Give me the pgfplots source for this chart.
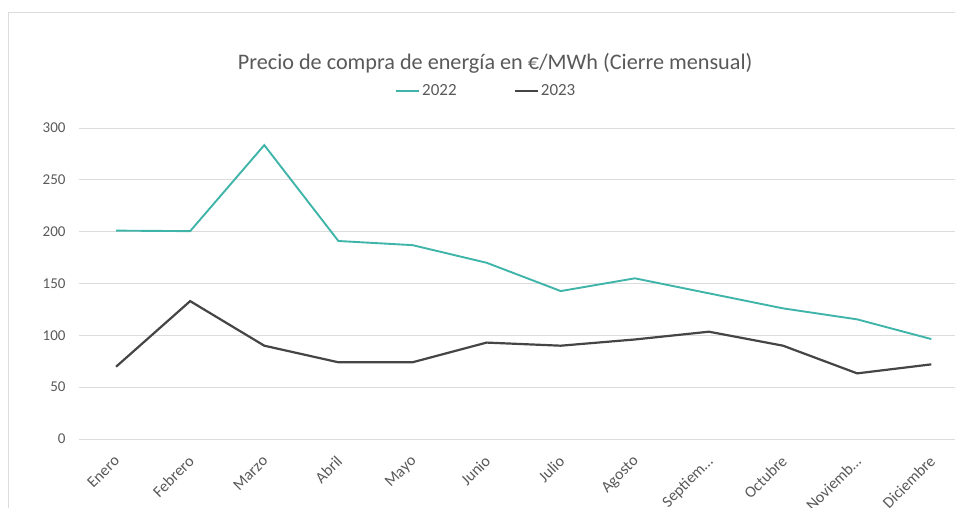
\documentclass[border=0pt]{standalone}
\usepackage{pgfplots}
\pgfplotsset{compat=1.18}
\usepackage{fontspec}
\setmainfont{Carlito}
\definecolor{teal22}{HTML}{3FB4A9}
\definecolor{gray23}{HTML}{454545}
\definecolor{txt}{HTML}{595959}
\definecolor{gridc}{HTML}{DCDCDC}
\begin{document}
\begin{tikzpicture}[x=1pt,y=1pt]
\begin{axis}[
  at={(79pt,69pt)}, anchor=south west,
  scale only axis, width=876pt, height=311pt,
  xmin=-0.5, xmax=11.32, ymin=0, ymax=300,
  axis line style={draw=none},
  clip=false,
  xtick={0,...,11},
  xticklabels={Enero,Febrero,Marzo,Abril,Mayo,Junio,Julio,Agosto,Septiem…,Octubre,Noviemb…,Diciembre},
  xticklabel style={xshift=-3pt, yshift=-14pt, rotate=45, anchor=north east, font=\fontsize{16}{18}\selectfont, text=txt, inner sep=1pt},
  ytick={0,50,...,300},
  yticklabel style={font=\fontsize{15}{17}\selectfont, text=txt, anchor=east, xshift=-10pt},
  /pgf/number format/assume math mode=true,
  major tick length=0pt,
  xmajorgrids=false, ymajorgrids=true, grid style={draw=gridc, line width=0.9pt},
  title={Precio de compra de energía en €/MWh (Cierre mensual)},
  title style={at={(0.475,1.19)}, anchor=center, yshift=0pt, font=\fontsize{22.2}{24}\selectfont, text=txt},
  legend columns=2,
  legend style={at={(0.465,1.119)}, anchor=center, draw=none, fill=none,
    font=\fontsize{17}{19}\selectfont, text=txt,
    /tikz/every even column/.append style={column sep=55pt}, inner sep=0pt},
  legend image code/.code={\draw[#1] (0pt,0pt) -- (23pt,0pt);},
]
\addplot[teal22, line width=1.9pt] coordinates {
(0,201) (1,200.5) (2,283.5) (3,191) (4,187) (5,170) (6,142.7) (7,155) (8,140.5) (9,126) (10,115.4) (11,96.4)};
\addlegendentry{2022}
\addplot[gray23, line width=2.2pt] coordinates {
(0,69.7) (1,133) (2,90) (3,74) (4,74) (5,93) (6,90) (7,96) (8,103.5) (9,90) (10,63.3) (11,72)};
\addlegendentry{2023}
\end{axis}
\draw[gridc, line width=1pt] (8pt,0pt) -- (8pt,495pt) -- (955pt,495pt);
\pgfresetboundingbox
\useasboundingbox (0,0) rectangle (955pt,508pt);
\end{tikzpicture}
\end{document}
